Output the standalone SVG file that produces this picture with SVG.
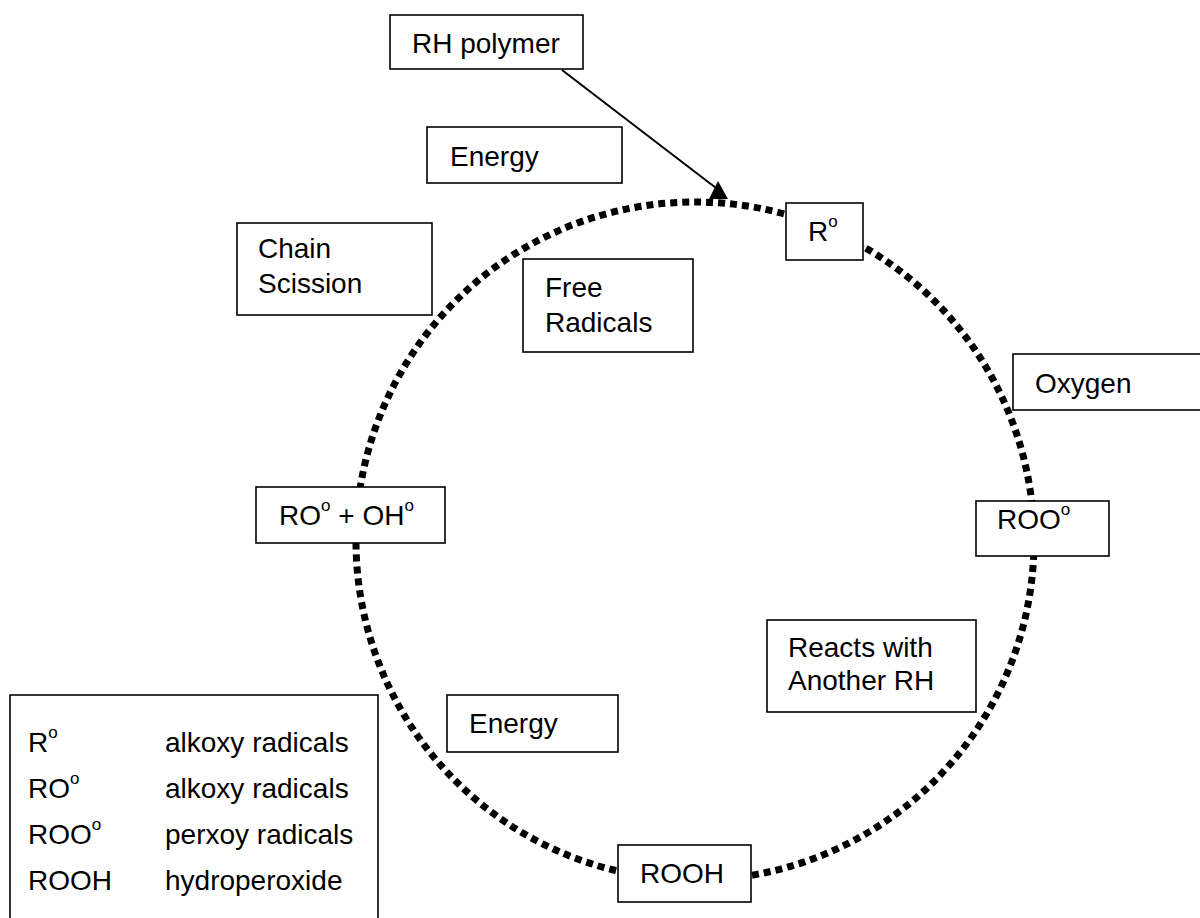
<svg xmlns="http://www.w3.org/2000/svg" width="1200" height="918" viewBox="0 0 1200 918">
<style>
.box{fill:#fff;stroke:#000;stroke-width:1.6}
text{font-family:"Liberation Sans",Arial,sans-serif;font-size:28px;fill:#000}
.sup{font-size:17px}
</style>
<rect width="1200" height="918" fill="#fff"/>
<g id="connectors">
<circle cx="695" cy="541" r="339" fill="none" stroke="#000" stroke-width="7" stroke-dasharray="7 5"/>
<line x1="562" y1="70" x2="716" y2="188" stroke="#000" stroke-width="2"/>
<polygon points="718,181 709,199 728,199" fill="#000"/>
</g>
<g id="rh-polymer"><rect class="box" x="390" y="15" width="193" height="54"/><text x="412" y="53">RH polymer</text></g>
<g id="energy-top"><rect class="box" x="427" y="127" width="195" height="56"/><text x="450" y="166">Energy</text></g>
<g id="r-radical"><rect class="box" x="786" y="203" width="77" height="57"/><text x="808" y="241">R<tspan class="sup" dy="-14">o</tspan></text></g>
<g id="chain-scission"><rect class="box" x="237" y="223" width="195" height="92"/><text x="258" y="258">Chain</text><text x="258" y="293">Scission</text></g>
<g id="free-radicals"><rect class="box" x="523" y="259" width="170" height="93"/><text x="545" y="297">Free</text><text x="545" y="332">Radicals</text></g>
<g id="oxygen"><rect class="box" x="1013" y="354" width="200" height="56"/><text x="1035" y="393">Oxygen</text></g>
<g id="ro-oh"><rect class="box" x="256" y="487" width="189" height="56"/><text x="279" y="525">RO<tspan class="sup" dy="-14">o</tspan><tspan dy="14"> + OH</tspan><tspan class="sup" dy="-14">o</tspan></text></g>
<g id="roo"><rect class="box" x="976" y="501" width="133" height="55"/><text x="997" y="529">ROO<tspan class="sup" dy="-14">o</tspan></text></g>
<g id="reacts"><rect class="box" x="767" y="620" width="209" height="92"/><text x="788" y="657">Reacts with</text><text x="788" y="690">Another RH</text></g>
<g id="energy-bottom"><rect class="box" x="447" y="695" width="171" height="57"/><text x="469" y="733">Energy</text></g>
<g id="rooh"><rect class="box" x="618" y="845" width="133" height="57"/><text x="640" y="883">ROOH</text></g>
<g id="legend"><rect class="box" x="10" y="695" width="368" height="240"/>
<text x="28" y="752">R<tspan class="sup" dy="-14">o</tspan></text><text x="165" y="752">alkoxy radicals</text>
<text x="28" y="798">RO<tspan class="sup" dy="-14">o</tspan></text><text x="165" y="798">alkoxy radicals</text>
<text x="28" y="844">ROO<tspan class="sup" dy="-14">o</tspan></text><text x="165" y="844">perxoy radicals</text>
<text x="28" y="890">ROOH</text><text x="165" y="890">hydroperoxide</text>
</g>
</svg>
